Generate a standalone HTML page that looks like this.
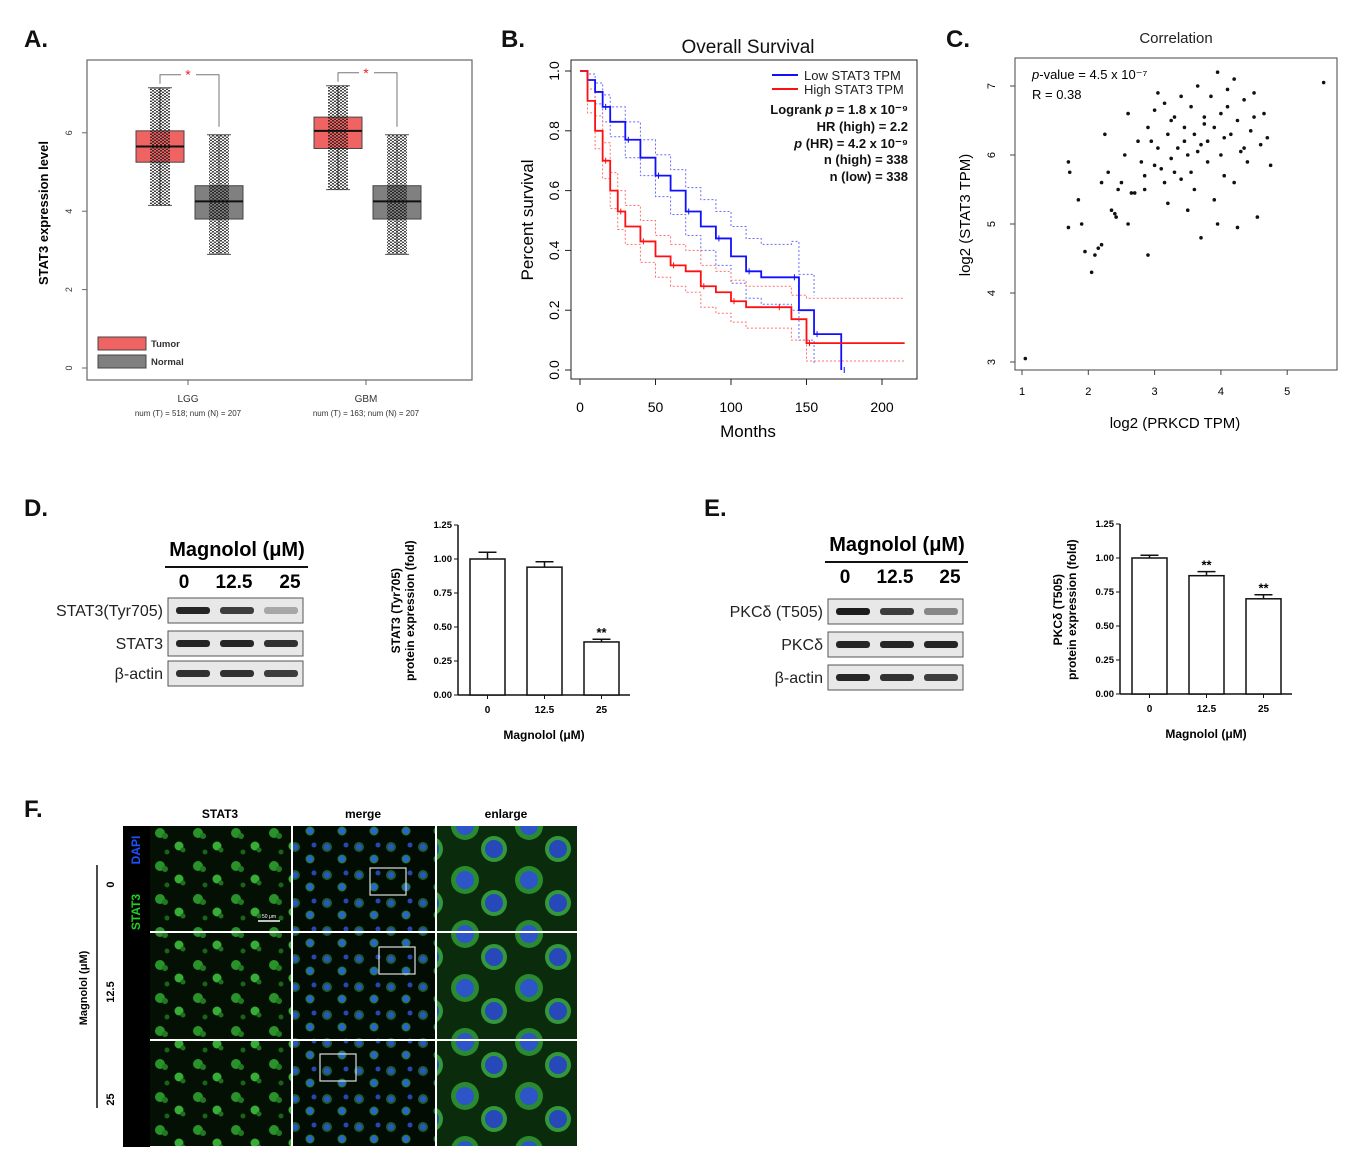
<!DOCTYPE html>
<html><head><meta charset="utf-8"><style>
html,body{margin:0;padding:0;background:#fff;}
svg{display:block;font-family:"Liberation Sans",Arial,sans-serif;}
</style></head><body>
<svg id="fig" width="1366" height="1166" viewBox="0 0 1366 1166" xmlns="http://www.w3.org/2000/svg">
<defs>
<pattern id="dots" width="4" height="3" patternUnits="userSpaceOnUse"><circle cx="1" cy="0.8" r="0.95" fill="#111"/><circle cx="3" cy="2.3" r="0.95" fill="#111"/></pattern>
<pattern id="cellsG" width="38" height="33" patternUnits="userSpaceOnUse"><rect width="38" height="33" fill="#031003"/><circle cx="8" cy="8" r="5" fill="#2a922a"/><circle cx="13" cy="11" r="3" fill="#1f7a1f"/><circle cx="27" cy="21" r="4.5" fill="#37ac37"/><circle cx="31" cy="25" r="2.5" fill="#1e701e"/><circle cx="15" cy="27" r="2.5" fill="#1a641a"/></pattern>
<pattern id="cellsM" width="32" height="28" patternUnits="userSpaceOnUse"><rect width="32" height="28" fill="#030c03"/><circle cx="7" cy="7" r="5" fill="#1b5e33"/><circle cx="7" cy="7" r="3" fill="#2a55c8"/><circle cx="22" cy="19" r="4.5" fill="#1f7a40"/><circle cx="22" cy="19" r="3" fill="#3060d8"/><circle cx="26" cy="5" r="2.5" fill="#2448b0"/></pattern>
<pattern id="cellsE" width="64" height="54" patternUnits="userSpaceOnUse"><rect width="64" height="54" fill="#0a2c0c"/><circle cx="17" cy="16" r="14" fill="#2a8a30"/><circle cx="17" cy="16" r="9" fill="#2d55c8"/><circle cx="46" cy="39" r="13" fill="#32983a"/><circle cx="46" cy="39" r="9" fill="#2648b8"/></pattern>
</defs>
<g font-weight="bold" font-size="24" fill="#111">
<text x="24" y="47">A.</text>
<text x="501" y="47">B.</text>
<text x="946" y="47">C.</text>
<text x="24" y="516">D.</text>
<text x="704" y="516">E.</text>
<text x="24" y="817">F.</text>
</g>
<g id="pA"></g>
<g id="pB"></g>
<g id="pC"></g>
<g id="pD"></g>
<g id="pE"></g>
<g id="pF"></g>
</svg>
<script>
// Panel A data
const boxGroups=["LGG","GBM"];
const boxNums=["num (T) = 518; num (N) = 207","num (T) = 163; num (N) = 207"];
const tumorStats=[[4.15,5.25,5.65,6.05,7.15],[4.55,5.6,6.05,6.4,7.2]];
const normalStats=[[2.9,3.8,4.25,4.65,5.95],[2.9,3.8,4.25,4.65,5.95]];
const aTicks=[0,2,4,6];
// Panel B data
const bLowT=[0,5,10,15,20,30,40,50,60,70,80,90,100,110,120,140,145,155,170,173];
const bLowS=[1,0.97,0.93,0.88,0.83,0.77,0.71,0.65,0.6,0.53,0.48,0.44,0.38,0.33,0.31,0.31,0.2,0.12,0.12,0];
const bHighT=[0,5,10,15,20,25,30,40,50,60,70,80,90,100,110,130,140,150,215];
const bHighS=[1,0.9,0.8,0.7,0.6,0.53,0.48,0.43,0.38,0.35,0.33,0.28,0.26,0.23,0.21,0.21,0.17,0.09,0.09];
const bLowUp=[1,0.99,0.96,0.92,0.88,0.83,0.77,0.72,0.67,0.61,0.57,0.53,0.48,0.44,0.42,0.43,0.32,0.25];
const bLowLo=[1,0.94,0.89,0.83,0.78,0.71,0.65,0.58,0.52,0.45,0.4,0.35,0.29,0.24,0.22,0.2,0.1,0.02];
const bHighUp=[1,0.94,0.85,0.76,0.66,0.6,0.55,0.5,0.45,0.42,0.4,0.35,0.33,0.3,0.28,0.28,0.25,0.24,0.24];
const bHighLo=[1,0.86,0.74,0.64,0.54,0.47,0.42,0.36,0.31,0.28,0.26,0.21,0.19,0.16,0.14,0.14,0.1,0.03,0.03];
const bXTicks=[0,50,100,150,200];
const bYTicks=[0,0.2,0.4,0.6,0.8,1.0];
// Panel C data
const cX=[1.05,5.55,1.7,1.72,1.7,1.85,1.9,1.95,2.05,2.1,2.15,2.2,2.2,2.25,2.3,2.4,2.42,2.45,2.5,2.55,2.6,2.6,2.7,2.75,2.8,2.85,2.9,2.9,3.0,3.0,3.05,3.1,3.15,3.2,3.2,3.25,3.3,3.35,3.4,3.4,3.45,3.5,3.5,3.55,3.6,3.6,3.65,3.7,3.7,3.75,3.8,3.85,3.9,3.9,3.95,4.0,4.0,4.05,4.1,4.15,4.2,4.2,4.25,4.3,4.35,4.4,4.45,4.5,4.55,4.6,4.65,4.7,4.75,3.3,3.55,3.8,2.95,3.15,2.65,4.05,3.95,4.25,3.05,2.35,4.5,3.65,3.45,3.75,4.1,2.85,3.25,4.35];
const cY=[3.05,7.05,5.9,5.75,4.95,5.35,5.0,4.6,4.3,4.55,4.65,4.7,5.6,6.3,5.75,5.15,5.1,5.5,5.6,6.0,5.0,6.6,5.45,6.2,5.9,5.5,6.4,4.55,5.85,6.65,6.1,5.8,6.75,6.3,5.3,5.95,6.55,6.1,6.85,5.65,6.4,6.0,5.2,6.7,6.3,5.5,7.0,6.15,4.8,6.55,5.9,6.85,6.4,5.35,7.2,6.0,6.6,5.7,6.95,6.3,5.6,7.1,6.5,6.05,6.8,5.9,6.35,6.9,5.1,6.15,6.6,6.25,5.85,5.75,5.75,6.2,6.2,5.6,5.45,6.25,5.0,4.95,6.9,5.2,6.55,6.05,6.2,6.45,6.7,5.7,6.5,6.1];
const cXTicks=[1,2,3,4,5];
const cYTicks=[3,4,5,6,7];
// Panels D/E data
const doseLabels=["0","12.5","25"];
const dValues=[1.0,0.94,0.39];
const dErrors=[0.05,0.04,0.02];
const eValues=[1.0,0.87,0.7];
const eErrors=[0.02,0.03,0.03];
const barTicks=["0.00","0.25","0.50","0.75","1.00","1.25"];
const dBands=[[0.9,0.8,0.3],[0.9,0.9,0.85],[0.85,0.85,0.8]];
const eBands=[[0.95,0.8,0.45],[0.9,0.9,0.9],[0.9,0.85,0.8]];

const NS="http://www.w3.org/2000/svg";
function mk(p,tag,at,txt){const e=document.createElementNS(NS,tag);for(const k in at)e.setAttribute(k,at[k]);if(txt!==undefined)e.textContent=txt;p.appendChild(e);return e;}
function steps(T,S,xs,ys){let d='M'+xs(T[0])+','+ys(S[0]);for(let i=1;i<T.length&&i<S.length;i++){d+='H'+xs(T[i])+'V'+ys(S[i]);}return d;}

// ---- Panel A
(function(){
const g=document.getElementById('pA');
const ys=v=>368-v*39.2;
let e=mk(g,'rect',{x:87,y:60,width:385,height:320,fill:'none',stroke:'#666','stroke-width':1.2});

aTicks.forEach(t=>{mk(g,'line',{x1:82,x2:87,y1:ys(t),y2:ys(t),stroke:'#666'});
 e=mk(g,'text',{x:72,y:ys(t),'font-size':9,'text-anchor':'middle',transform:`rotate(-90 72 ${ys(t)})`,fill:'#333'},String(t));
 });
e=mk(g,'text',{x:48,y:213,'font-size':13,'font-weight':'bold','text-anchor':'middle',transform:'rotate(-90 48 213)'},'STAT3 expression level');

const centers=[188,366];
boxGroups.forEach((name,i)=>{
 const cx=centers[i];
 [[tumorStats[i],cx-28,'#ef6363'],[normalStats[i],cx+31,'#808080']].forEach(([s,bx,col])=>{
  const gg=mk(g,'g',{});
  
  mk(gg,'line',{x1:bx,x2:bx,y1:ys(s[0]),y2:ys(s[4]),stroke:'#555'});
  mk(gg,'line',{x1:bx-12,x2:bx+12,y1:ys(s[0]),y2:ys(s[0]),stroke:'#555'});
  mk(gg,'line',{x1:bx-12,x2:bx+12,y1:ys(s[4]),y2:ys(s[4]),stroke:'#555'});
  mk(gg,'rect',{x:bx-24,y:ys(s[3]),width:48,height:ys(s[1])-ys(s[3]),fill:col,stroke:'#444'});
  mk(gg,'rect',{x:bx-10,y:ys(s[4]),width:20,height:ys(s[0])-ys(s[4]),fill:'url(#dots)',opacity:0.9});
  mk(gg,'line',{x1:bx-24,x2:bx+24,y1:ys(s[2]),y2:ys(s[2]),stroke:'#111','stroke-width':2});
 });
 const yb=ys(Math.max(tumorStats[i][4],normalStats[i][4]))-13;
 mk(g,'path',{d:`M${cx-28},${ys(tumorStats[i][4])-4}V${yb}H${cx-7}M${cx+8},${yb}H${cx+31}V${ys(normalStats[i][4])-8}`,fill:'none',stroke:'#777'});
 e=mk(g,'text',{x:cx,y:yb+5,'font-size':14,fill:'#e22','text-anchor':'middle'},'*');
 
 mk(g,'line',{x1:cx,x2:cx,y1:380,y2:385,stroke:'#666'});
 e=mk(g,'text',{x:cx,y:402,'font-size':10,'text-anchor':'middle',fill:'#333'},name);
 
 e=mk(g,'text',{x:cx,y:416,'font-size':8,'text-anchor':'middle',fill:'#333'},boxNums[i]);
 
});
[['Tumor','#ef6363',337],['Normal','#808080',355]].forEach(([t,c,y])=>{
 const lg=mk(g,'g',{});
 mk(lg,'rect',{x:98,y:y,width:48,height:13,fill:c,stroke:'#444'});
 mk(lg,'text',{x:151,y:y+10,'font-size':9.5,'font-weight':'bold',fill:'#333'},t);
});
})();

// ---- Panel B
(function(){
const g=document.getElementById('pB');
const xs=t=>580+t*1.51, ys=s=>370-s*299;
let e=mk(g,'rect',{x:571,y:60,width:346,height:319,fill:'none',stroke:'#222'});

e=mk(g,'text',{x:748,y:53,'font-size':19,'text-anchor':'middle',fill:'#111'},'Overall Survival');

bXTicks.forEach(t=>{mk(g,'line',{x1:xs(t),x2:xs(t),y1:379,y2:385,stroke:'#222'});
 e=mk(g,'text',{x:xs(t),y:412,'font-size':14,'text-anchor':'middle'},String(t));});
bYTicks.forEach(t=>{mk(g,'line',{x1:565,x2:571,y1:ys(t),y2:ys(t),stroke:'#222'});
 e=mk(g,'text',{x:559,y:ys(t),'font-size':14,'text-anchor':'middle',transform:`rotate(-90 559 ${ys(t)})`},t.toFixed(1));});
e=mk(g,'text',{x:748,y:437,'font-size':17,'text-anchor':'middle'},'Months');
e=mk(g,'text',{x:533,y:220,'font-size':17,'text-anchor':'middle',transform:'rotate(-90 533 220)'},'Percent survival');
[[bLowUp,bLowT,'#6a6aff'],[bLowLo,bLowT,'#6a6aff'],[bHighUp,bHighT,'#ff7070'],[bHighLo,bHighT,'#ff7070']].forEach(([S,T,c])=>{
 e=mk(g,'path',{d:steps(T,S,xs,ys),fill:'none',stroke:c,'stroke-width':1,'stroke-dasharray':'2,2'});});
e=mk(g,'path',{d:steps(bLowT,bLowS,xs,ys),fill:'none',stroke:'#1010ff','stroke-width':1.8});
e=mk(g,'path',{d:steps(bHighT,bHighS,xs,ys),fill:'none',stroke:'#ff1010','stroke-width':1.8});
[[bHighT,bHighS,'#ff1010'],[bLowT,bLowS,'#1010ff']].forEach(([T,S,c])=>{for(let i=3;i<T.length;i+=2){mk(g,'line',{x1:xs(T[i])+3,x2:xs(T[i])+3,y1:ys(S[i])-3,y2:ys(S[i])+3,stroke:c});}});
[['Low STAT3 TPM','#1010ff',75],['High STAT3 TPM','#ff1010',89]].forEach(([t,c,y])=>{
 const lg=mk(g,'g',{});
 mk(lg,'line',{x1:772,x2:798,y1:y,y2:y,stroke:c,'stroke-width':2});
 mk(lg,'text',{x:804,y:y+5,'font-size':13,fill:'#222'},t);});
const st=[['Logrank ','p',' = 1.8 x 10⁻⁹',114],['HR (high) = 2.2','','',131],['','p',' (HR) = 4.2 x 10⁻⁹',148],['n (high) = 338','','',164],['n (low) = 338','','',181]];
st.forEach(([a,b,c,y])=>{e=mk(g,'text',{x:908,y:y,'font-size':13,'font-weight':'bold','text-anchor':'end',fill:'#111'});
 
 mk(e,'tspan',{},a);if(b)mk(e,'tspan',{'font-style':'italic'},b);if(c)mk(e,'tspan',{},c);});
})();

// ---- Panel C
(function(){
const g=document.getElementById('pC');
const xs=v=>1022+(v-1)*66.3, ys=v=>362-(v-3)*69;
let e=mk(g,'rect',{x:1015,y:58,width:322,height:312,fill:'none',stroke:'#444'});
e=mk(g,'text',{x:1176,y:43,'font-size':15,'text-anchor':'middle',fill:'#222'},'Correlation');
cXTicks.forEach(t=>{mk(g,'line',{x1:xs(t),x2:xs(t),y1:370,y2:375,stroke:'#444'});e=mk(g,'text',{x:xs(t),y:395,'font-size':11,'text-anchor':'middle'},String(t));});
cYTicks.forEach(t=>{mk(g,'line',{x1:1010,x2:1015,y1:ys(t),y2:ys(t),stroke:'#444'});e=mk(g,'text',{x:995,y:ys(t),'font-size':11,'text-anchor':'middle',transform:`rotate(-90 995 ${ys(t)})`},String(t));});
e=mk(g,'text',{x:1175,y:428,'font-size':15,'text-anchor':'middle'},'log2 (PRKCD TPM)');
e=mk(g,'text',{x:970,y:215,'font-size':15,'text-anchor':'middle',transform:'rotate(-90 970 215)'},'log2 (STAT3 TPM)');
e=mk(g,'text',{x:1032,y:79,'font-size':13});
mk(e,'tspan',{'font-style':'italic'},'p');mk(e,'tspan',{},'-value = 4.5 x 10⁻⁷');
e=mk(g,'text',{x:1032,y:99,'font-size':13},'R = 0.38');
cX.forEach((x,i)=>{e=mk(g,'circle',{cx:xs(x),cy:ys(cY[i]),r:1.8,fill:'#111'});});
})();

// ---- Panels D & E
function blot(g,o){
 let e=mk(g,'text',{x:o.tx,y:o.ty,'font-size':20,'font-weight':'bold','text-anchor':'middle'},'Magnolol (μM)');
 mk(g,'line',{x1:o.bx-3,x2:o.bx+o.bw+5,y1:o.ty+11,y2:o.ty+11,stroke:'#111','stroke-width':2});
 doseLabels.forEach((d,i)=>{e=mk(g,'text',{x:o.lx[i],y:o.ty+32,'font-size':19,'font-weight':'bold','text-anchor':'middle'},d);});
 o.rows.forEach((lab,r)=>{
  const y=o.ry[r];
  const gg=mk(g,'g',{});
  mk(gg,'rect',{x:o.bx,y:y,width:o.bw,height:25,fill:'#e8e8e8',stroke:'#555'});
  o.bands[r].forEach((b,i)=>{mk(gg,'rect',{x:o.bx+8+i*44,y:y+9,width:34,height:7,rx:3,fill:'#111',opacity:b});});
  e=mk(g,'text',{x:o.bx-5,y:y+18,'font-size':16,'text-anchor':'end',fill:'#222'},lab);
 });
}
function bars(g,o){
 const ys=v=>o.y0-v*136, bx=i=>o.ax+12+i*57;
 mk(g,'line',{x1:o.ax,x2:o.ax,y1:ys(1.25),y2:o.y0,stroke:'#111','stroke-width':1.5});
 mk(g,'line',{x1:o.ax,x2:o.ax+172,y1:o.y0,y2:o.y0,stroke:'#111','stroke-width':1.5});
 barTicks.forEach(t=>{const y=ys(+t);mk(g,'line',{x1:o.ax-4,x2:o.ax,y1:y,y2:y,stroke:'#111'});
  let e=mk(g,'text',{x:o.ax-6,y:y+3,'font-size':9.5,'font-weight':'bold','text-anchor':'end'},t);});
 o.vals.forEach((v,i)=>{
  let e=mk(g,'rect',{x:bx(i),y:ys(v),width:35,height:o.y0-ys(v),fill:'#fff',stroke:'#111','stroke-width':1.5});
  const cx=bx(i)+17.5,yt=ys(v+o.errs[i]);
  mk(g,'path',{d:`M${cx},${ys(v)}V${yt}M${cx-9},${yt}H${cx+9}`,stroke:'#111','stroke-width':1.5,fill:'none'});
  mk(g,'line',{x1:cx,x2:cx,y1:o.y0,y2:o.y0+4,stroke:'#111'});
  e=mk(g,'text',{x:cx,y:o.y0+18,'font-size':10,'font-weight':'bold','text-anchor':'middle'},doseLabels[i]);
  if(o.stars[i]){e=mk(g,'text',{x:cx,y:yt-2,'font-size':13,'font-weight':'bold','text-anchor':'middle'},'**');}
 });
 let e=mk(g,'text',{x:o.ax+86,y:o.y0+44,'font-size':12,'font-weight':'bold','text-anchor':'middle'},'Magnolol (μM)');
 const cy=ys(0.62);
 e=mk(g,'text',{x:o.ax-58,y:cy,'font-size':12,'font-weight':'bold','text-anchor':'middle',transform:`rotate(-90 ${o.ax-58} ${cy})`},o.ylab);
 e=mk(g,'text',{x:o.ax-44,y:cy,'font-size':12,'font-weight':'bold','text-anchor':'middle',transform:`rotate(-90 ${o.ax-44} ${cy})`},'protein expression (fold)');
}
blot(document.getElementById('pD'),{tx:237,ty:556,bx:168,bw:135,rows:["STAT3(Tyr705)","STAT3","β-actin"],ry:[598,631,661],bands:dBands,lx:[184,234,290]});
bars(document.getElementById('pD'),{ax:458,y0:695,vals:dValues,errs:dErrors,stars:[0,0,1],ylab:'STAT3 (Tyr705)'});
blot(document.getElementById('pE'),{tx:897,ty:551,bx:828,bw:135,rows:["PKCδ (T505)","PKCδ","β-actin"],ry:[599,632,665],bands:eBands,lx:[845,895,950]});
bars(document.getElementById('pE'),{ax:1120,y0:694,vals:eValues,errs:eErrors,stars:[0,1,1],ylab:'PKCδ (T505)'});

// ---- Panel F
(function(){
const g=document.getElementById('pF');
let e;
[['STAT3',220],['merge',363],['enlarge',506]].forEach(([t,x])=>{e=mk(g,'text',{x:x,y:818,'font-size':12,'font-weight':'bold','text-anchor':'middle'},t);});
mk(g,'rect',{x:123,y:826,width:27,height:321,fill:'#000'});
e=mk(g,'text',{x:140,y:850,'font-size':12,'font-weight':'bold',fill:'#1e50ff','text-anchor':'middle',transform:'rotate(-90 140 850)'},'DAPI');
e=mk(g,'text',{x:140,y:912,'font-size':12,'font-weight':'bold',fill:'#20d020','text-anchor':'middle',transform:'rotate(-90 140 912)'},'STAT3');
const cols=[[150,141,'url(#cellsG)'],[293,142,'url(#cellsM)'],[437,140,'url(#cellsE)']];
const rows=[[826,105,'0'],[933,106,'12.5'],[1041,105,'25']];
rows.forEach(([y,h,lab],r)=>{cols.forEach(([x,w,f],c)=>{e=mk(g,'rect',{x:x,y:y,width:w,height:h,fill:f});});
 e=mk(g,'text',{x:114,y:y+h/2+6,'font-size':11,'font-weight':'bold','text-anchor':'middle',transform:`rotate(-90 114 ${y+h/2+6})`},lab);});
[[370,868],[379,947],[320,1054]].forEach(([x,y])=>mk(g,'rect',{x:x,y:y,width:36,height:27,fill:'none',stroke:'#ddd','stroke-width':1.2}));
mk(g,'line',{x1:258,x2:280,y1:921,y2:921,stroke:'#fff','stroke-width':1.5});
mk(g,'text',{x:269,y:918,'font-size':5,fill:'#fff','text-anchor':'middle'},'50 μm');
mk(g,'line',{x1:97,x2:97,y1:865,y2:1108,stroke:'#111','stroke-width':1.5});
e=mk(g,'text',{x:87,y:988,'font-size':11,'font-weight':'bold','text-anchor':'middle',transform:'rotate(-90 87 988)'},'Magnolol (μM)');
})();
</script>
</body></html>
